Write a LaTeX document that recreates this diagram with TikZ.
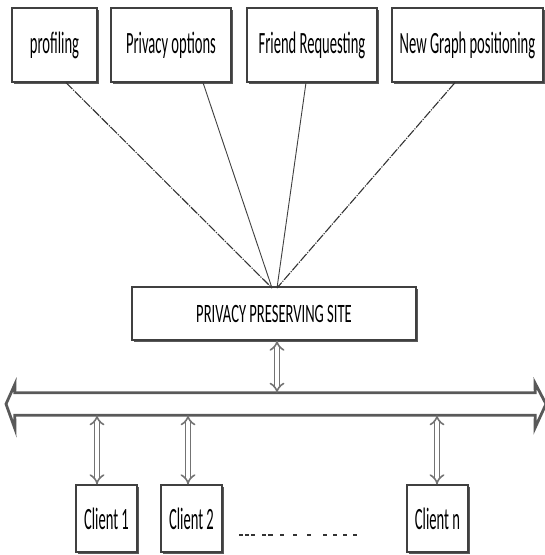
\documentclass[tikz,border=0pt]{standalone}
\usepackage{fontspec}
\setmainfont{Carlito}
\usepackage{graphicx}
\usetikzlibrary{arrows.meta,shadows}
\newcommand{\sq}[2][0.47]{\scalebox{#1}[1]{#2}}
\begin{document}
\begin{tikzpicture}[x=1pt,y=-1pt,
  box/.style={draw=black!75, line width=1.2pt, fill=white, inner sep=0pt,
    drop shadow={shadow xshift=1.6pt, shadow yshift=-1.8pt, opacity=1, fill=black!65}},
  topbox/.style={box, minimum height=74pt, font=\fontsize{31}{31}\selectfont},
  sitebox/.style={box, minimum width=284pt, minimum height=53pt, font=\fontsize{26.5}{26.5}\selectfont},
  clientbox/.style={box, minimum width=61pt, minimum height=67pt, font=\fontsize{31}{31}\selectfont},
  fan/.style={draw=black!75, line width=0.9pt},
  fandash/.style={draw=black!80, line width=1.1pt, dash pattern=on 9pt off 1.2pt on 1.2pt off 1.2pt},
  dbl/.style={draw=black!55, line width=1.6pt, double=white, double distance=3.4pt, {Implies}-{Implies}},
  busline/.style={draw=black!65, line width=2.8pt, line join=miter},
  dotline/.style={draw=black!80, line width=1.5pt}
]
\useasboundingbox (0,0) rectangle (545,555);

% top boxes
\node[topbox, minimum width=85pt]  (prof) at (54.5,45) {\sq{profiling}};
\node[topbox, minimum width=120pt] (priv) at (171,45)  {\sq{Privacy options}};
\node[topbox, minimum width=130pt] (frnd) at (312,45)  {\sq{Friend Requesting}};
\node[topbox, minimum width=151pt] (ngp)  at (467.5,45) {\sq{New Graph positioning}};

% site
\node[sitebox] (site) at (274,313.5) {\sq[0.55]{PRIVACY PRESERVING SITE}};

% fan lines
\coordinate (pa) at (272,288);
\coordinate (pb) at (277,288);
\draw[fandash] ([xshift=11.5pt]prof.south) -- (pa);
\draw[fan] ([xshift=32pt]priv.south) -- (pa);
\draw[fan] ([xshift=-6pt]frnd.south) -- (pb);
\draw[fandash] ([xshift=-12.5pt]ngp.south) -- (pb);

% bus
\node[minimum width=520pt, minimum height=22pt, inner sep=0pt] (bus) at (275,404) {};
\draw[busline] (6,404) -- (15,384) -- (bus.north west) -- (bus.north east) -- (535,383)
  -- (546,404) -- (535,428) -- (bus.south east) -- (bus.south west) -- (15,429) -- cycle;

% site to bus
\coordinate (sx) at (277,0);
\draw[dbl] (site.south -| sx) -- (bus.north -| sx);

% clients
\node[clientbox] (c1) at (106.5,518.5) {\sq{Client 1}};
\node[clientbox] (c2) at (191.5,518.5) {\sq{Client 2}};
\node[clientbox] (cn) at (437.5,518.5) {\sq{Client n}};

\coordinate (x1) at (97,0);
\coordinate (x2) at (188,0);
\coordinate (xn) at (437,0);
\draw[dbl] (bus.south -| x1) -- (c1.north -| x1);
\draw[dbl] (bus.south -| x2) -- (c2.north -| x2);
\draw[dbl] (bus.south -| xn) -- (cn.north -| xn);

% dots
\foreach \a/\b in {239/243,245/249,251/255,262/266,268/273,280/284,293/297,307/311,323/327,333/337,343/347,353/357}
  \draw[dotline] (\a,535) -- (\b,535);
\end{tikzpicture}
\end{document}
